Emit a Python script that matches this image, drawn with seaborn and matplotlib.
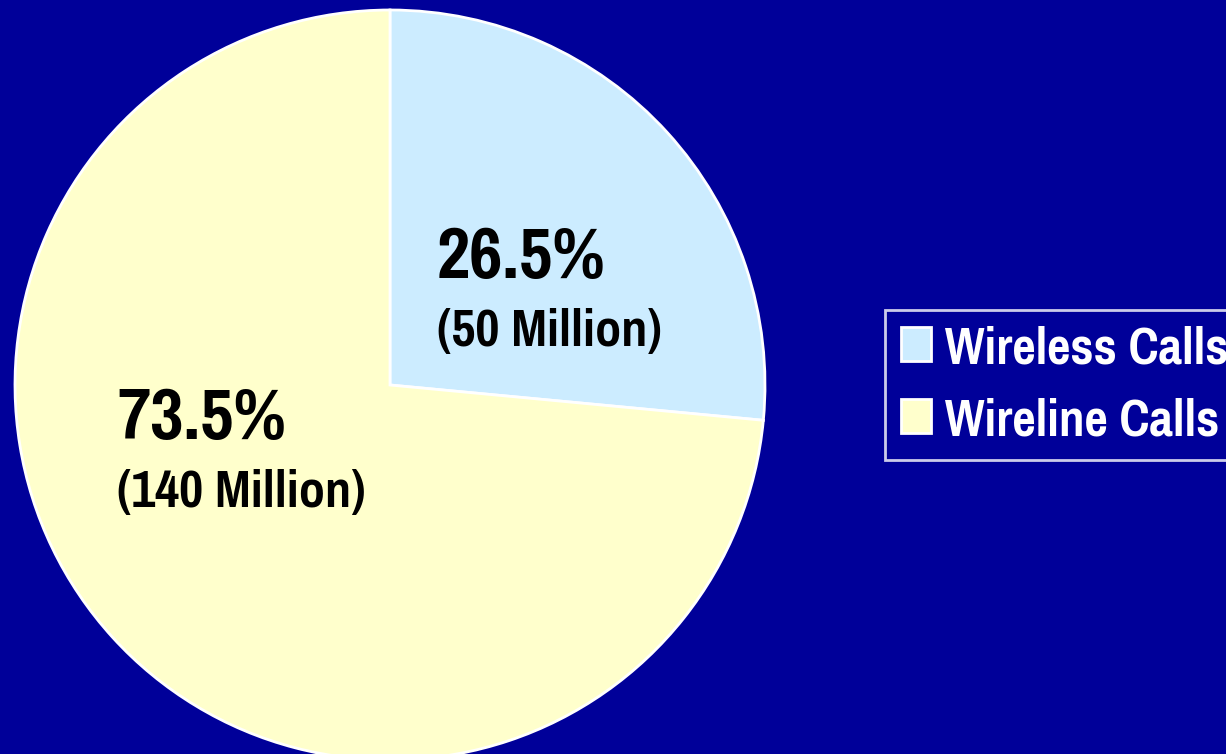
import matplotlib
matplotlib.use("Agg")
import matplotlib.pyplot as plt
import seaborn as sns

categories = ["Wireless Calls", "Wireline Calls"]
shares = [26.5, 73.5]
counts = ["(50 Million)", "(140 Million)"]
colors = ["#CCECFF", "#FFFFCC"]
bg = "#000099"

sns.set_theme(style="white")
plt.rcParams["font.family"] = ["Pragati Narrow", "Archivo Narrow", "DejaVu Sans"]

W, H = 1226, 754
fig = plt.figure(figsize=(W / 100, H / 100), dpi=100, facecolor=bg)
cx, cy, r = 390, 385, 375
ax = fig.add_axes([(cx - r) / W, (H - cy - r) / H, 2 * r / W, 2 * r / H])
ax.set_facecolor(bg)
ax.axis("off")

wedges, _ = ax.pie(shares, colors=colors, startangle=90, counterclock=False,
                   radius=1, wedgeprops=dict(edgecolor="white", linewidth=2))
ax.set_xlim(-1, 1)
ax.set_ylim(-1, 1)
ax.set_aspect("equal")

pos = [(0.125, 0.285), (-0.728, -0.145)]
for (x, y), s, c in zip(pos, shares, counts):
    ax.text(x, y, f"{s}%", fontsize=57, fontweight="bold", color="black",
            ha="left", va="baseline")
    ax.text(x, y - 0.181, c, fontsize=41, fontweight="bold", color="black",
            ha="left", va="baseline")

leg = fig.legend(wedges, categories, loc="upper left",
                 bbox_to_anchor=(885 / W, 1 - 310 / H), fontsize=40,
                 frameon=True, fancybox=False, facecolor=bg, edgecolor="white",
                 handlelength=0.55, handleheight=0.55, handletextpad=0.25,
                 labelspacing=0.45, borderpad=0.28, borderaxespad=0)
leg.get_frame().set_linewidth(2)
for t in leg.get_texts():
    t.set_color("white")
    t.set_fontweight("bold")

fig.savefig("out.png", dpi=100, facecolor=bg)
